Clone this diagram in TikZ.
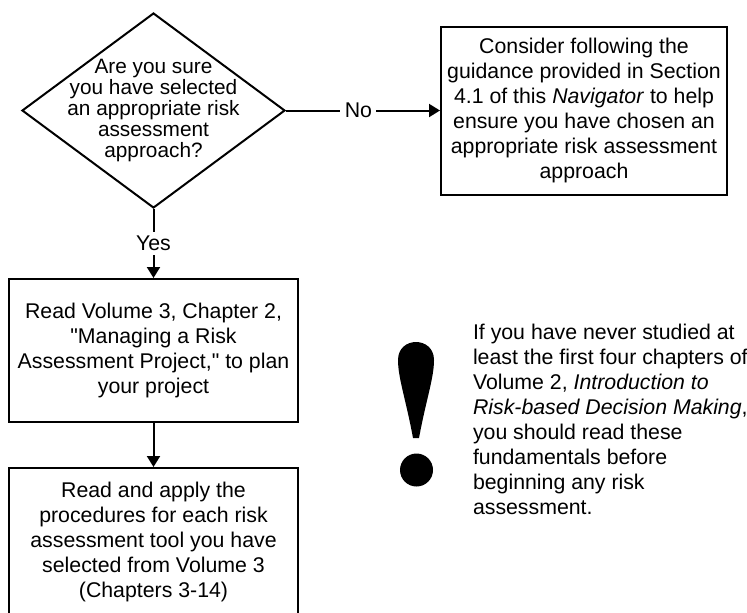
\documentclass[tikz,border=0pt]{standalone}
\usepackage{fontspec}
\setmainfont{Liberation Sans}
\usetikzlibrary{arrows.meta, positioning, shapes.geometric}

\begin{document}
\begin{tikzpicture}[x=0.5pt, y=-0.5pt, line width=1pt, >={Triangle[length=5.5pt, width=6.5pt]},
    box/.style={draw, align=center, inner sep=0pt, font=\fontsize{10.65}{12.5}\selectfont},
    decide/.style={diamond, draw, inner sep=0pt, minimum width=131.5pt, minimum height=97.5pt},
    answer/.style={fill=white, inner sep=2.2pt, font=\fontsize{10.65}{12.5}\selectfont}]
    \useasboundingbox (0,0) rectangle (747,612);
    \node(ask)[decide] at (153.5,110.5) {};
    \node(ask-text)[align=center, font=\fontsize{10.4}{10.5}\selectfont] at (ask.center)
        { Are you sure \\ you have selected \\ an appropriate risk \\ assessment \\ approach? };
    \node(consider)[box, minimum width=143pt, minimum height=84pt, right=77pt of ask]
        { Consider following the \\ guidance provided in Section \\ 4.1 of this \textit{Navigator} to help \\
          ensure you have chosen an \\ appropriate risk assessment \\ approach };
    \node(plan)[box, minimum width=144.5pt, minimum height=71.5pt, below=34.5pt of ask]
        { Read Volume 3, Chapter 2, \\ \textquotedbl Managing a Risk \\
          Assessment Project,\textquotedbl{} to plan \\ your project };
    \node(apply)[box, minimum width=144.5pt, minimum height=73.5pt, below=22pt of plan]
        { Read and apply the \\ procedures for each risk \\ assessment tool you have \\
          selected from Volume 3 \\ (Chapters 3-14) };
    \node(note)[align=left, inner sep=0pt, anchor=north west, font=\fontsize{10.65}{12.5}\selectfont] at (472,323)
        { If you have never studied at \\ least the first four chapters of \\ Volume 2, \textit{Introduction to} \\
          \textit{Risk-based Decision Making}, \\ you should read these \\ fundamentals before \\
          beginning any risk \\ assessment. };

    \fill (413,438) .. controls (406,400) and (398,378) .. (398,360)
          .. controls (398,336) and (434,336) .. (434,360)
          .. controls (434,378) and (426,400) .. (419,438) -- cycle;
    \fill (416.5,470) circle (16.5);

    \draw[->] (ask) -- node[answer, pos=.47] {No} (consider);
    \draw[->] (ask) -- node[answer] {Yes} (plan);
    \draw[->] (plan) -- (apply);
\end{tikzpicture}
\end{document}
